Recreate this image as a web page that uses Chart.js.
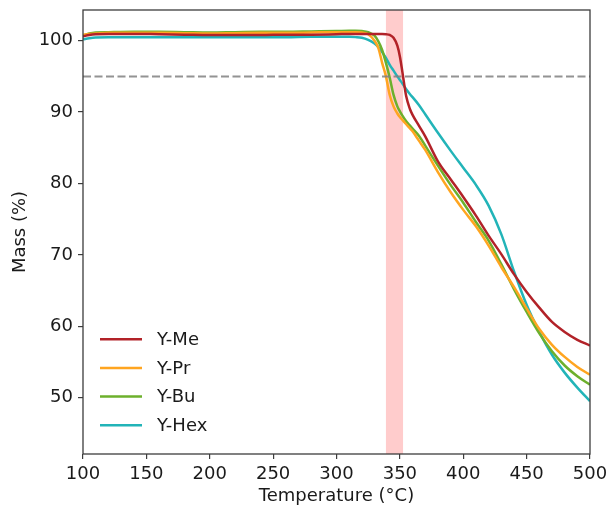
<!DOCTYPE html>
<html>
<head>
<meta charset="utf-8">
<script src="https://cdn.jsdelivr.net/npm/chart.js@4/dist/chart.umd.min.js"></script>
<style>
  html, body { margin: 0; padding: 0; background: #ffffff; }
  canvas { display: block; }
</style>
</head>
<body>
<canvas id="tga" width="611" height="508"></canvas>
<script>
// Thermogravimetric curves: mass remaining versus temperature
const temperatures = [100, 105, 110, 120, 140, 160, 180, 200, 220, 240, 260, 280, 300, 310, 315,
  320, 325, 330, 333, 336, 339, 342, 345, 348, 350, 352, 355, 358, 360, 365, 370,
  380, 390, 400, 410, 420, 430, 440, 450, 460, 470, 480, 490, 500];

const massMe = [100.6, 100.8, 100.9, 100.95, 100.95, 100.9, 100.85, 100.8, 100.8, 100.8, 100.85, 100.85, 100.9, 100.95, 100.95,
  100.95, 100.95, 100.95, 100.95, 100.95, 100.9, 100.8, 100.4, 99.3, 97.8, 95.6, 92.2, 90.4, 89.6, 88.1, 86.6,
  83.1, 80.6, 78.1, 75.5, 72.7, 70.1, 67.3, 64.8, 62.6, 60.6, 59.2, 58.1, 57.3];

const massPr = [100.8, 100.95, 101.0, 101.1, 101.1, 101.1, 101.05, 101.0, 101.05, 101.1, 101.1, 101.15, 101.2, 101.2, 101.2,
  101.15, 100.9, 100.0, 99.0, 96.9, 95.0, 92.4, 90.8, 89.8, 89.3, 88.9, 88.3, 87.7, 87.3, 86.0, 84.7,
  81.6, 78.8, 76.3, 74.0, 71.3, 68.3, 65.5, 62.5, 59.6, 57.4, 55.7, 54.3, 53.2];

const massBu = [100.7, 101.0, 101.15, 101.2, 101.25, 101.25, 101.2, 101.15, 101.2, 101.25, 101.25, 101.3, 101.35, 101.4, 101.4,
  101.35, 101.2, 100.7, 99.9, 98.7, 96.9, 94.8, 92.4, 90.8, 90.1, 89.5, 88.7, 88.1, 87.7, 86.7, 85.3,
  82.5, 79.8, 77.3, 74.6, 72.0, 68.7, 65.2, 62.0, 59.0, 56.5, 54.5, 53.0, 51.8];

const massHex = [100.2, 100.35, 100.45, 100.5, 100.5, 100.5, 100.5, 100.5, 100.5, 100.5, 100.5, 100.55, 100.55, 100.55, 100.5,
  100.4, 100.1, 99.6, 99.1, 98.4, 97.6, 96.6, 95.8, 95.0, 94.5, 94.0, 93.2, 92.5, 92.1, 91.0, 89.7,
  87.1, 84.6, 82.2, 79.8, 76.9, 72.9, 67.7, 63.0, 59.2, 56.0, 53.5, 51.4, 49.5];

const seriesNames = ['Y-Me', 'Y-Pr', 'Y-Bu', 'Y-Hex'];
const seriesColors = ['#b22228', '#ffa520', '#6db02c', '#22b4b8'];

const xTicks = [100, 150, 200, 250, 300, 350, 400, 450, 500];
const yTicks = [50, 60, 70, 80, 90, 100];
const xRange = [100, 500];
const yRange = [42.1, 104.3];

const thresholdMass = [95];          // 5 % mass-loss level
const onsetSpan = [339, 352.5];      // range of T(5 %) across the samples

const FONT = 'DejaVu Sans';
const TEXT = '#1a1a1a';
const AXIS = '#3c3c3c';
Chart.defaults.font.family = FONT;

const allMass = [massMe, massPr, massBu, massHex];
const datasets = allMass.map((vals, i) => ({
  label: seriesNames[i],
  data: temperatures.map((t, k) => ({ x: t, y: vals[k] })),
  borderColor: seriesColors[i],
  backgroundColor: seriesColors[i],
  borderWidth: 2.5,
  pointRadius: 0,
  fill: false,
  cubicInterpolationMode: 'monotone'
}));

const decor = {
  id: 'decor',
  beforeDraw(chart) {
    const c = chart.ctx;
    c.save();
    c.fillStyle = '#ffffff';
    c.fillRect(0, 0, chart.width, chart.height);
    c.restore();
  },
  beforeDatasetsDraw(chart) {
    const { ctx: c, chartArea: a, scales: { x } } = chart;
    c.save();
    // onset window
    const x0 = x.getPixelForValue(onsetSpan[0]);
    const x1 = x.getPixelForValue(onsetSpan[1]);
    c.fillStyle = 'rgba(255, 0, 0, 0.2)';
    c.fillRect(x0, a.top, x1 - x0, a.bottom - a.top);
    c.restore();
  },
  afterDatasetsDraw(chart) {
    const { ctx: c, chartArea: a, scales: { y } } = chart;
    c.save();
    // 95 % reference line
    const yy = y.getPixelForValue(thresholdMass[0]);
    c.strokeStyle = 'rgba(128, 128, 128, 0.85)';
    c.lineWidth = 2;
    c.setLineDash([8, 3.5]);
    c.beginPath();
    c.moveTo(a.left, yy);
    c.lineTo(a.right, yy);
    c.stroke();
    c.setLineDash([]);

    // frame
    c.strokeStyle = AXIS;
    c.lineWidth = 1.3;
    c.strokeRect(a.left, a.top, a.right - a.left, a.bottom - a.top);

    // legend, lower left inside the axes
    c.font = '18px "' + FONT + '"';
    c.textBaseline = 'middle';
    c.textAlign = 'left';
    const rowGap = 28.7;
    const firstRow = a.bottom - 28.7 - rowGap * (chart.data.datasets.length - 1);
    chart.data.datasets.forEach((ds, i) => {
      const ry = firstRow + i * rowGap;
      c.strokeStyle = ds.borderColor;
      c.lineWidth = 2.5;
      c.beginPath();
      c.moveTo(a.left + 17, ry);
      c.lineTo(a.left + 59, ry);
      c.stroke();
      c.fillStyle = TEXT;
      c.fillText(ds.label, a.left + 74, ry + 1);
    });
    c.restore();
  }
};

const tickFont = { family: FONT, size: 18 };
const noEdgePadding = s => { s.paddingTop = 0; s.paddingBottom = 0; s.paddingLeft = 0; s.paddingRight = 0; };

new Chart(document.getElementById('tga'), {
  type: 'line',
  data: { datasets },
  options: {
    responsive: false,
    animation: false,
    devicePixelRatio: 1,
    layout: { padding: { left: 0, right: 21, top: 10, bottom: 0 } },
    plugins: { legend: { display: false }, tooltip: { enabled: false } },
    scales: {
      x: {
        type: 'linear',
        min: xRange[0],
        max: xRange[1],
        afterBuildTicks: s => { s.ticks = xTicks.map(v => ({ value: v })); },
        afterFit: s => { s.height = 54; noEdgePadding(s); },
        grid: { display: true, drawOnChartArea: false, drawTicks: true, tickLength: 5, color: AXIS, lineWidth: 1.2 },
        border: { display: false },
        ticks: { font: tickFont, color: TEXT, padding: 5, maxRotation: 0, autoSkip: false },
        title: { display: true, text: 'Temperature (°C)', font: tickFont, color: TEXT, padding: { top: 0, bottom: 1 } }
      },
      y: {
        type: 'linear',
        min: yRange[0],
        max: yRange[1],
        afterBuildTicks: s => { s.ticks = yTicks.map(v => ({ value: v })); },
        afterFit: s => { s.width = 83; noEdgePadding(s); },
        grid: { display: true, drawOnChartArea: false, drawTicks: true, tickLength: 5, color: AXIS, lineWidth: 1.2 },
        border: { display: false },
        ticks: { font: tickFont, color: TEXT, padding: 5, autoSkip: false },
        title: { display: true, text: 'Mass (%)', font: tickFont, color: TEXT, padding: { top: 10, bottom: 0 } }
      }
    }
  },
  plugins: [decor]
});
</script>
</body>
</html>
